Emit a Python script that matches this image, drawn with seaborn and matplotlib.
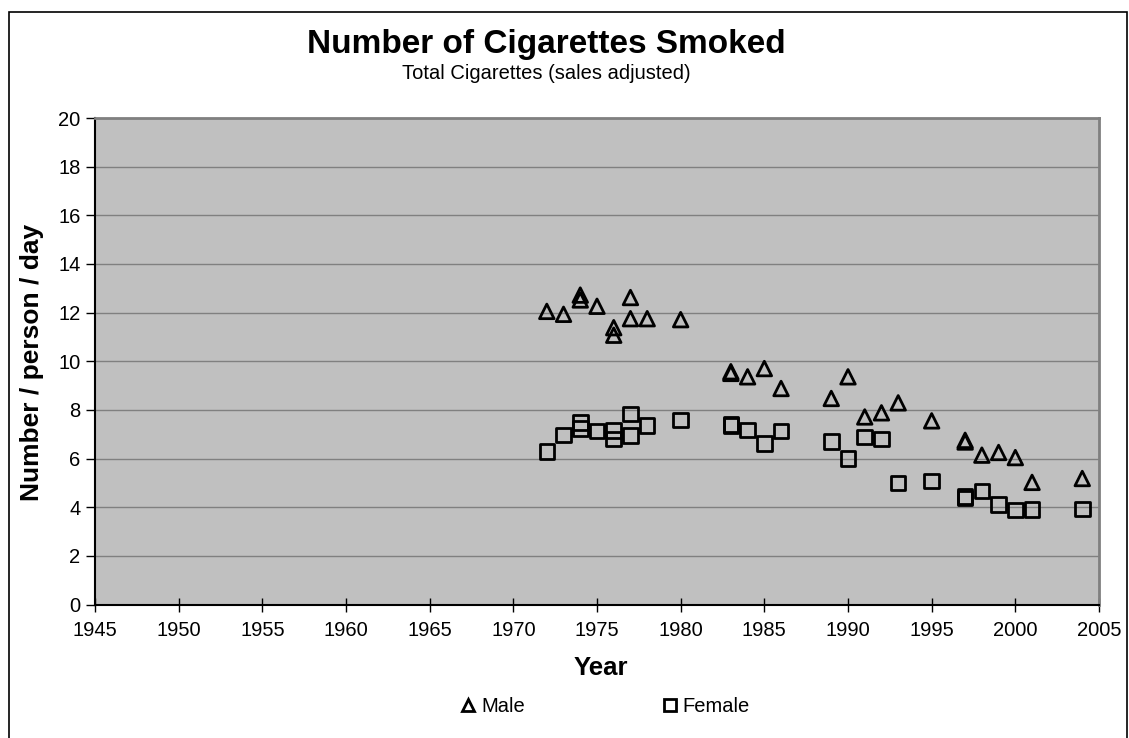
import numpy as np
import pandas as pd
import matplotlib
matplotlib.use("Agg")
import matplotlib.pyplot as plt
from matplotlib.lines import Line2D
from matplotlib.patches import Rectangle
import seaborn as sns

# ---- data ----
male_years = [1972, 1973, 1974, 1974, 1975, 1976, 1976, 1977, 1977, 1978, 1980,
              1983, 1983, 1984, 1985, 1986, 1989, 1990, 1991, 1992, 1993, 1995,
              1997, 1997, 1998, 1999, 2000, 2001, 2004]
male_values = [12.05, 11.93, 12.72, 12.52, 12.26, 11.38, 11.07, 12.62, 11.75, 11.75, 11.71,
               9.57, 9.50, 9.36, 9.70, 8.88, 8.47, 9.36, 7.71, 7.88, 8.29, 7.55,
               6.75, 6.68, 6.14, 6.25, 6.04, 5.02, 5.18]

female_years = [1972, 1973, 1974, 1974, 1975, 1976, 1976, 1977, 1977, 1978, 1980,
                1983, 1983, 1984, 1985, 1986, 1989, 1990, 1991, 1992, 1993, 1995,
                1997, 1997, 1998, 1999, 2000, 2001, 2004]
female_values = [6.28, 6.96, 7.49, 7.23, 7.13, 7.15, 6.81, 7.84, 6.95, 7.37, 7.59,
                 7.40, 7.35, 7.17, 6.62, 7.14, 6.71, 6.00, 6.89, 6.81, 4.99, 5.08,
                 4.45, 4.38, 4.67, 4.11, 3.88, 3.91, 3.92]

x_ticks = list(range(1945, 2006, 5))
y_ticks = list(range(0, 21, 2))

df = pd.concat([
    pd.DataFrame({"Year": male_years, "Value": male_values, "Sex": "Male"}),
    pd.DataFrame({"Year": female_years, "Value": female_values, "Sex": "Female"}),
])

sns.set_style("white")
plt.rcParams["font.family"] = ["Liberation Sans", "DejaVu Sans"]
plt.rcParams["text.color"] = "black"
plt.rcParams["xtick.color"] = "black"
plt.rcParams["ytick.color"] = "black"
plt.rcParams["xtick.labelcolor"] = "black"
plt.rcParams["ytick.labelcolor"] = "black"

W, H = 1129, 738
fig = plt.figure(figsize=(W / 100, H / 100), dpi=100)
fig.patch.set_facecolor("white")

# plot area in pixel coords
left, top, right, bottom = 95, 118, 1099, 604.5
ax = fig.add_axes([left / W, 1 - bottom / H, (right - left) / W, (bottom - top) / H])
ax.set_facecolor("#C0C0C0")

markers = {"Male": "^", "Female": "s"}
for sex in ["Male", "Female"]:
    sns.scatterplot(data=df[df["Sex"] == sex], x="Year", y="Value", marker=markers[sex],
                    s=110, color="black", linewidth=2.0, ax=ax, legend=False, zorder=3)
for coll in ax.collections:
    coll.set_facecolor("none")
    coll.set_edgecolor("black")

ax.set_xlim(1945, 2005)
ax.set_ylim(0, 20)
ax.set_xticks(x_ticks)
ax.set_yticks(y_ticks)
ax.yaxis.grid(True, color="#808080", linewidth=1.0)
ax.xaxis.grid(False)
ax.set_axisbelow(True)

ax.tick_params(axis="x", direction="inout", length=10, width=1, colors="black",
               labelsize=14.5, pad=7)
ax.tick_params(axis="y", direction="out", length=6.5, width=1, colors="black",
               labelsize=14.5, pad=4)
ax.tick_params(bottom=True, left=True)

for side in ["left", "bottom"]:
    ax.spines[side].set_color("black")
    ax.spines[side].set_linewidth(1.5)
for side in ["top", "right"]:
    ax.spines[side].set_color("#808080")
    ax.spines[side].set_linewidth(2)

ax.set_xlabel("")
ax.set_ylabel("")

# labels and titles
fig.text(601 / W, 1 - 668 / H, "Year", ha="center", va="center",
         fontsize=18.5, fontweight="bold", color="black")
fig.text(32 / W, 1 - 362 / H, "Number / person / day", ha="center", va="center",
         rotation=90, fontsize=19, fontweight="bold", color="black")
fig.text(546.5 / W, 1 - 53.5 / H, "Number of Cigarettes Smoked", ha="center",
         va="baseline", fontsize=24, fontweight="bold", color="black")
fig.text(546.5 / W, 1 - 79 / H, "Total Cigarettes (sales adjusted)", ha="center",
         va="baseline", fontsize=14.5, color="black")

# legend
handles = [
    Line2D([], [], marker="^", linestyle="none", markerfacecolor="none",
           markeredgecolor="black", markeredgewidth=2, markersize=9),
    Line2D([], [], marker="s", linestyle="none", markerfacecolor="none",
           markeredgecolor="black", markeredgewidth=2, markersize=9),
]
fig.legend(handles, ["Male", "Female"], loc="center", ncol=2,
           bbox_to_anchor=(605 / W, 1 - 707 / H), frameon=False, fontsize=14.5,
           handlelength=0.8, handletextpad=0.25, columnspacing=6.8,
           labelcolor="black")

# outer chart border
fig.add_artist(Rectangle((9 / W, -0.01), (1127 - 9) / W, 1 - 12 / H + 0.01,
                         transform=fig.transFigure, fill=False,
                         edgecolor="black", linewidth=1.2))

fig.savefig("out.png", dpi=100)
